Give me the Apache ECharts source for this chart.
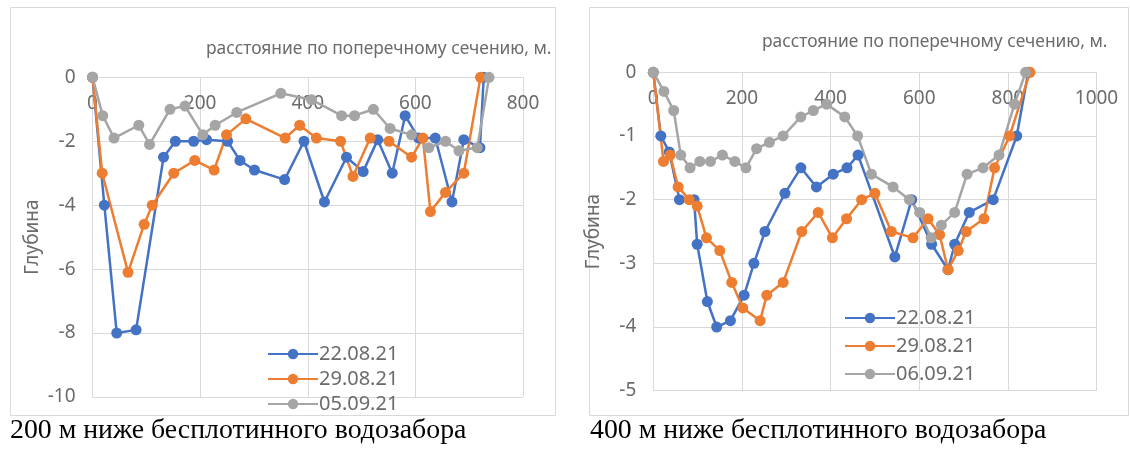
<!DOCTYPE html>
<html><head><meta charset="utf-8">
<script src="https://cdn.jsdelivr.net/npm/echarts@6/dist/echarts.min.js"></script>
<style>html,body{margin:0;padding:0;background:#fff}#c{width:1130px;height:450px}</style>
</head><body><div id="c"></div>
<script>
// ---- Left chart: 200 м ниже бесплотинного водозабора ----
const L_x_2208 = [0,22,45,81,132,154,188,212,251,274,301,357,393,431,472,503,530,557,581,606,637,668,690,720,727];
const L_y_2208 = [0,-4,-8,-7.9,-2.5,-2,-2,-1.95,-2,-2.6,-2.9,-3.2,-2,-3.9,-2.5,-2.95,-1.95,-3,-1.2,-1.9,-1.9,-3.9,-1.95,-2.2,0];
const L_x_2908 = [0,18,66,96,111,151,190,226,249,285,358,385,416,461,484,516,551,593,614,628,656,690,721];
const L_y_2908 = [0,-3,-6.1,-4.6,-4,-3,-2.6,-2.9,-1.8,-1.3,-1.9,-1.5,-1.9,-2,-3.1,-1.9,-2,-2.5,-1.9,-4.2,-3.6,-3,0];
const L_x_0509 = [0,19,40,86,106,144,172,205,228,268,350,407,463,487,522,553,593,625,656,681,715,737];
const L_y_0509 = [0,-1.2,-1.9,-1.5,-2.1,-1,-0.9,-1.8,-1.5,-1.1,-0.5,-0.7,-1.2,-1.2,-1,-1.6,-1.8,-2.2,-2,-2.3,-2.2,0];
// ---- Right chart: 400 м ниже бесплотинного водозабора ----
const R_x_2208 = [0,17,36,59,92,99,122,143,174,205,227,252,297,333,368,406,437,462,545,583,628,665,680,713,767,820,846];
const R_y_2208 = [0,-1,-1.25,-2,-2,-2.7,-3.6,-4,-3.9,-3.5,-3,-2.5,-1.9,-1.5,-1.8,-1.6,-1.5,-1.3,-2.9,-2,-2.7,-3.1,-2.7,-2.2,-2,-1,0];
const R_x_2908 = [0,23,38,56,81,99,120,150,177,202,241,256,293,335,372,404,436,470,500,537,586,620,646,665,688,706,746,770,804,850];
const R_y_2908 = [0,-1.4,-1.3,-1.8,-2,-2.1,-2.6,-2.8,-3.3,-3.7,-3.9,-3.5,-3.3,-2.5,-2.2,-2.6,-2.3,-2,-1.9,-2.5,-2.6,-2.3,-2.55,-3.1,-2.8,-2.5,-2.3,-1.5,-1,0];
const R_x_0609 = [0,24,46,62,83,105,129,156,184,209,233,262,293,333,361,391,432,461,492,541,578,601,627,650,680,708,744,780,815,840];
const R_y_0609 = [0,-0.3,-0.6,-1.3,-1.5,-1.4,-1.4,-1.3,-1.4,-1.5,-1.2,-1.1,-1,-0.7,-0.6,-0.5,-0.7,-1,-1.6,-1.8,-2,-2.2,-2.6,-2.4,-2.2,-1.6,-1.5,-1.3,-0.5,0];

const L_names = ['22.08.21','29.08.21','05.09.21'];
const R_names = ['22.08.21','29.08.21','06.09.21'];
const xTitle = 'расстояние по поперечному сечению, м.';
const yTitle = 'Глубина';
const L_caption = '200 м ниже бесплотинного водозабора';
const R_caption = '400 м ниже бесплотинного водозабора';

const colors = ['#4472C4','#ED7D31','#A5A5A5'];
const zip = (xs, ys) => xs.map((x, i) => [x, ys[i]]);
const FONT = 'Noto Sans';
const TXT = '#6b6b6b';
const GRID = '#d9d9d9';

function xAx(gi, max){
  return {gridIndex: gi, type:'value', position:'top', min:0, max:max, interval:200,
    axisLine:{show:true, onZero:false, lineStyle:{color:GRID}}, axisTick:{show:false},
    axisLabel:{inside:true, margin:17, color:TXT, fontSize:19, fontFamily:FONT, formatter:(v)=>String(v)},
    splitLine:{show:true, lineStyle:{color:GRID, width:1}}};
}
function yAx(gi, min, interval){
  return {gridIndex: gi, type:'value', min:min, max:0, interval:interval,
    axisLine:{show:true, lineStyle:{color:GRID}}, axisTick:{show:false},
    axisLabel:{margin:17, color:TXT, fontSize:19, fontFamily:FONT, formatter:(v)=>String(v)},
    splitLine:{show:true, lineStyle:{color:GRID, width:1}},
    name: yTitle, nameLocation:'middle', nameRotate:90, nameGap:50,
    nameTextStyle:{color:TXT, fontSize:19, fontFamily:FONT}};
}
function ser(name, gi, xs, ys, ci){
  return {name:name, type:'line', xAxisIndex:gi, yAxisIndex:gi, data:zip(xs, ys),
    symbol:'circle', symbolSize:11, showSymbol:true,
    lineStyle:{width:2.5, color:colors[ci]}, itemStyle:{color:colors[ci]},
    emphasis:{disabled:true}, animation:false};
}
function legend(left, top, gap, names){
  return {orient:'vertical', left:left, top:top, itemGap:gap, itemWidth:50, itemHeight:13,
    data:names, textStyle:{color:TXT, fontSize:20, fontFamily:FONT, padding:[0,0,0,-4]}, selectedMode:false};
}

const chart = echarts.init(document.getElementById('c'), null, {renderer:'canvas'});
chart.setOption({
  backgroundColor:'#fff',
  animation:false,
  grid:[
    {left:92.5, top:77.3, width:430.5, height:319.7, containLabel:false},
    {left:653.3, top:72.3, width:443.2, height:318.4, containLabel:false}
  ],
  xAxis:[xAx(0, 800), xAx(1, 1000)],
  yAxis:[yAx(0, -10, 2), yAx(1, -5, 1)],
  legend:[legend(262, 339, 5, L_names), legend(839, 303, 8, R_names)],
  series:[
    ser(L_names[0], 0, L_x_2208, L_y_2208, 0),
    ser(L_names[1], 0, L_x_2908, L_y_2908, 1),
    ser(L_names[2], 0, L_x_0509, L_y_0509, 2),
    ser(R_names[0], 1, R_x_2208, R_y_2208, 0),
    ser(R_names[1], 1, R_x_2908, R_y_2908, 1),
    ser(R_names[2], 1, R_x_0609, R_y_0609, 2)
  ],
  graphic:[
    {type:'rect', shape:{x:10.5, y:7.5, width:545, height:408}, style:{fill:'none', stroke:GRID, lineWidth:1}, z:-1, silent:true},
    {type:'rect', shape:{x:589.5, y:7.5, width:539, height:408}, style:{fill:'none', stroke:GRID, lineWidth:1}, z:-1, silent:true},
    {type:'text', left:206, top:41, style:{text:xTitle, fill:TXT, fontSize:17.4, fontFamily:FONT}, silent:true},
    {type:'text', left:762, top:34, style:{text:xTitle, fill:TXT, fontSize:17.4, fontFamily:FONT}, silent:true},
    {type:'text', left:10, top:417, style:{text:L_caption, fill:'#000', fontSize:27.8, fontFamily:'Liberation Serif'}, silent:true},
    {type:'text', left:590, top:417, style:{text:R_caption, fill:'#000', fontSize:27.8, fontFamily:'Liberation Serif'}, silent:true}
  ]
});
</script></body></html>
